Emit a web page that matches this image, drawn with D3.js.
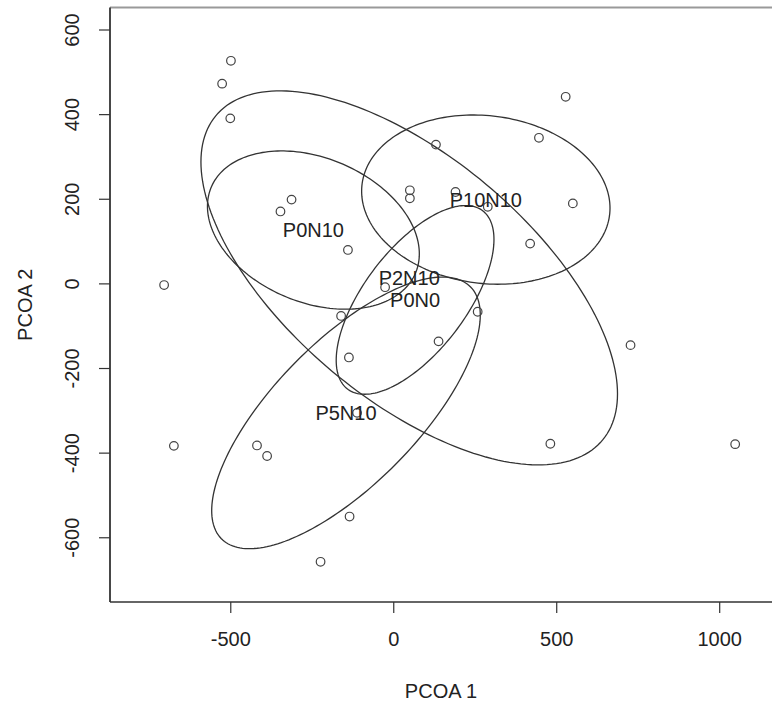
<!DOCTYPE html>
<html>
<head>
<meta charset="utf-8">
<script src="https://cdn.jsdelivr.net/npm/d3@7"></script>
<style>
  body { margin: 0; background: #fff; }
  svg { display: block; font-family: "Liberation Sans", Arial, sans-serif; }
</style>
</head>
<body>
<svg width="772" height="709"></svg>
<script>
// site scores (PCoA axis 1 / axis 2)
const siteX = [-498, -525, -500, 131, 51, 51, -312, -346, -139, -703,
  -25, 529, 447, 191, 290, 551, 420, -160, 139, -136,
  -111, -673, -418, -387, -134, -223, 259, 728, 482, 1049];
const siteY = [526, 472, 390, 328, 220, 201, 198, 170, 79, -4,
  -9, 441, 344, 216, 181, 189, 94, -77, -137, -175,
  -306, -384, -383, -408, -551, -658, -67, -146, -379, -380];

// group ellipses: centre, half extent in x / y, correlation
const groups = ['P0N0', 'P0N10', 'P2N10', 'P5N10', 'P10N10'];
const ellCx = [67, -245, 49, -145, 284];
const ellCy = [-39, 126, 13, -306, 198];
const ellHw = [242, 325, 639, 412, 381];
const ellHh = [223, 187, 442, 321, 200];
const ellR = [0.64, -0.3, -0.62, 0.72, -0.1];

const xTicks = [-500, 0, 500, 1000];
const yTicks = [-600, -400, -200, 0, 200, 400, 600];

function makeChart () {
  const svg = d3.select('svg');
  const left = 110, right = 772, top = 7.5, bottom = 602;

  const scX = d3.scaleLinear().domain([-869, 1162]).range([left, right]);
  const scY = d3.scaleLinear().domain([-753, 652]).range([bottom, top]);

  // ellipses
  const steps = d3.range(0, 200).map(i => i / 200 * 2 * Math.PI);
  const lnMkr = d3.line().curve(d3.curveLinearClosed)
    .x(d => scX(d[0])).y(d => scY(d[1]));
  groups.forEach((g, i) => {
    const r = ellR[i], s = Math.sqrt(1 - r * r);
    const pts = steps.map(t => [
      ellCx[i] + ellHw[i] * Math.cos(t),
      ellCy[i] + ellHh[i] * (r * Math.cos(t) + s * Math.sin(t))
    ]);
    svg.append('path')
      .attr('d', lnMkr(pts))
      .attr('fill', 'none')
      .attr('stroke', '#333')
      .attr('stroke-width', 1.3);
  });

  // points
  svg.append('g').selectAll('circle').data(siteX).enter()
    .append('circle')
    .attr('cx', d => scX(d))
    .attr('cy', (d, i) => scY(siteY[i]))
    .attr('r', 4.3)
    .attr('fill', 'none')
    .attr('stroke', '#444')
    .attr('stroke-width', 1.2);

  // group labels at ellipse centres
  svg.append('g').selectAll('text').data(groups).enter()
    .append('text')
    .attr('x', (d, i) => scX(ellCx[i]))
    .attr('y', (d, i) => scY(ellCy[i]))
    .attr('dy', '0.36em')
    .attr('text-anchor', 'middle')
    .attr('font-size', 20)
    .attr('fill', '#222')
    .text(d => d);

  // axes
  const fmt = d => String(d);
  const xAx = svg.append('g')
    .attr('transform', 'translate(0,' + bottom + ')')
    .call(d3.axisBottom(scX).tickValues(xTicks).tickSize(11)
      .tickPadding(19).tickFormat(fmt));
  const yAx = svg.append('g')
    .attr('transform', 'translate(' + left + ',0)')
    .call(d3.axisLeft(scY).tickValues(yTicks).tickSize(11)
      .tickFormat(fmt));
  [xAx, yAx].forEach(ax => {
    ax.select('.domain').remove();
    ax.selectAll('line').attr('stroke', '#333').attr('stroke-width', 1.2);
    ax.selectAll('text').attr('font-size', 20).attr('fill', '#222')
      .attr('font-family', '"Liberation Sans", Arial, sans-serif');
  });
  yAx.selectAll('text')
    .attr('transform', 'rotate(-90)')
    .attr('x', 0).attr('y', -38)
    .attr('dy', '0.35em')
    .attr('text-anchor', 'middle');

  // frame
  svg.append('line').attr('x1', left).attr('x2', right + 10)
    .attr('y1', top).attr('y2', top)
    .attr('stroke', '#999').attr('stroke-width', 2);
  svg.append('line').attr('x1', left).attr('x2', left)
    .attr('y1', top).attr('y2', bottom)
    .attr('stroke', '#333').attr('stroke-width', 1.8);
  svg.append('line').attr('x1', left).attr('x2', right + 10)
    .attr('y1', bottom).attr('y2', bottom)
    .attr('stroke', '#333').attr('stroke-width', 1.5);

  // axis titles
  svg.append('text')
    .attr('x', (left + right) / 2).attr('y', 691)
    .attr('dy', '0.35em').attr('text-anchor', 'middle')
    .attr('font-size', 20).attr('fill', '#222')
    .text('PCOA 1');
  svg.append('text')
    .attr('transform', 'translate(25,' + (top + bottom) / 2 + ') rotate(-90)')
    .attr('dy', '0.35em').attr('text-anchor', 'middle')
    .attr('font-size', 20).attr('fill', '#222')
    .text('PCOA 2');
}

makeChart();
</script>
</body>
</html>
